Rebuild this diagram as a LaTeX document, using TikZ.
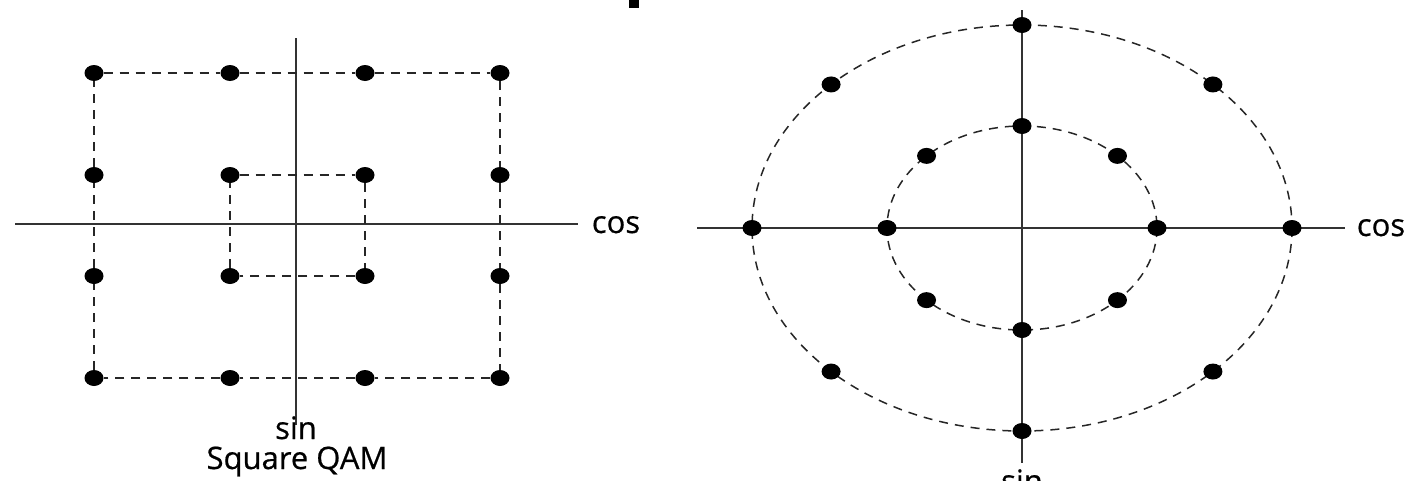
\documentclass[tikz,border=0pt]{standalone}
\usepackage{fontspec}
\setmainfont{Open Sans}
\newfontfamily\lblfont{Open Sans}[FakeBold=0.6]
\usetikzlibrary{shapes.geometric,calc}
\begin{document}
\begin{tikzpicture}[x=1pt,y=-1pt,
  dot/.style={ellipse,fill=black,minimum width=19pt,minimum height=16pt,inner sep=0pt},
  dline/.style={draw=black!85,line width=1.5pt,dash pattern=on 9pt off 7pt},
  axis/.style={draw=black!80,line width=1.8pt},
  lbl/.style={font=\fontsize{31}{33}\lblfont,inner sep=0pt,anchor=base}]
\useasboundingbox (0,0) rectangle (1412,480);
\clip (0,0) rectangle (1412,480);
\fill[black] (629,0) rectangle (639,8);
% ---- left: square QAM
\draw[axis] (15,224) -- (578,224);
\draw[axis] (296,38) -- (296,425);
\foreach \i/\x in {1/94,2/230,3/365,4/500}{
  \foreach \j/\y in {1/73,4/378}{ \node[dot] (o\i\j) at (\x,\y) {}; }
}
\node[dot] (o12) at (94,175) {};
\node[dot] (o13) at (94,276) {};
\node[dot] (o42) at (500,175) {};
\node[dot] (o43) at (500,276) {};
\node[dot] (i11) at (230,175) {};
\node[dot] (i21) at (365,175) {};
\node[dot] (i12) at (230,276) {};
\node[dot] (i22) at (365,276) {};
\draw[dline] (o11) -- (o21) -- (o31) -- (o41) -- (o42) -- (o43) -- (o44) -- (o34) -- (o24) -- (o14) -- (o13) -- (o12) -- (o11);
\draw[dline] (i11) -- (i21) -- (i22) -- (i12) -- (i11);
\node[lbl] (lcos) at (616,233) {cos};
\node[lbl] (lsin) at (296,439) {sin};
\node[lbl] (lcap) at (297,469) {Square QAM};
% ---- right: circular
\coordinate (c) at (1022,228);
\draw[axis,line width=1.5pt] (697,228) -- (1345,228);
\draw[axis,line width=1.5pt] (1022,10) -- (1022,463);
\draw[dline] (c) ellipse [x radius=270, y radius=203];
\draw[dline] (c) ellipse [x radius=135, y radius=102];
\foreach \a in {0,45,...,315}{
  \node[dot] (O\a) at ($(c)+({270*cos(\a)},{203*sin(\a)})$) {};
  \node[dot] (I\a) at ($(c)+({135*cos(\a)},{102*sin(\a)})$) {};
}
\node[lbl] (rcos) at (1381,236) {cos};
\node[lbl] (rsin) at (1022,492) {sin};
\end{tikzpicture}
\end{document}
